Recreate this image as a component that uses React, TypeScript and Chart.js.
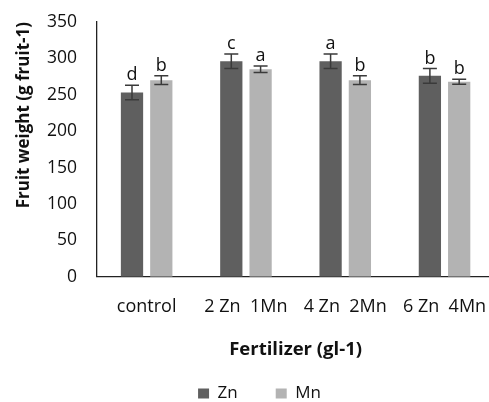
import React, { useEffect, useRef } from "react";
import { Chart, registerables } from "chart.js";

Chart.register(...registerables);

const categories = ["control", "2 Zn  1Mn", "4 Zn  2Mn", "6 Zn  4Mn"];
const znValues = [253, 296, 296, 276];
const mnValues = [270, 285, 270, 268];
const znErrors = [10, 10, 10, 10];
const mnErrors = [6, 4.5, 6, 3.5];
const znLetters = ["d", "c", "a", "b"];
const mnLetters = ["b", "a", "b", "b"];
const yTicks = [0, 50, 100, 150, 200, 250, 300, 350];

const FONT = "'Open Sans', Lato, sans-serif";

const errorBarPlugin = {
  id: "errorBars",
  afterDatasetsDraw(chart: any) {
    const ctx = chart.ctx;
    const yScale = chart.scales.y;
    const errs = [znErrors, mnErrors];
    const letters = [znLetters, mnLetters];
    chart.data.datasets.forEach((ds: any, di: number) => {
      const meta = chart.getDatasetMeta(di);
      meta.data.forEach((el: any, i: number) => {
        const v = ds.data[i];
        const e = errs[di][i];
        const x = el.x;
        const yT = yScale.getPixelForValue(v + e);
        const yB = yScale.getPixelForValue(v - e);
        ctx.save();
        ctx.strokeStyle = "#3a3a3a";
        ctx.lineWidth = 1.5;
        ctx.beginPath();
        ctx.moveTo(x, yT);
        ctx.lineTo(x, yB);
        ctx.moveTo(x - 7, yT);
        ctx.lineTo(x + 7, yT);
        ctx.moveTo(x - 7, yB);
        ctx.lineTo(x + 7, yB);
        ctx.stroke();
        ctx.fillStyle = "#111";
        ctx.font = `18px ${FONT}`;
        ctx.textAlign = "center";
        ctx.textBaseline = "alphabetic";
        ctx.fillText(letters[di][i], x, yT - 5);
        ctx.restore();
      });
    });
  },
};

const legendShiftPlugin = {
  id: "legendShift",
  afterLayout(chart: any) {
    if (chart.legend) {
      chart.legend.left += 3;
      chart.legend.right += 3;
    }
  },
};

export default function App() {
  const ref = useRef<HTMLCanvasElement | null>(null);
  useEffect(() => {
    if (!ref.current) return;
    const chart = new Chart(ref.current, {
      type: "bar",
      data: {
        labels: categories,
        datasets: [
          {
            label: "Zn",
            data: znValues,
            backgroundColor: "#5f5f5f",
            categoryPercentage: 0.59,
            barPercentage: 0.76,
          },
          {
            label: "Mn",
            data: mnValues,
            backgroundColor: "#b3b3b3",
            categoryPercentage: 0.59,
            barPercentage: 0.76,
          },
        ],
      },
      options: {
        responsive: false,
        animation: false,
        layout: { padding: { left: 14, right: 7, top: 22, bottom: 0 } },
        plugins: {
          legend: {
            position: "bottom",
            labels: {
              boxWidth: 11,
              boxHeight: 10,
              padding: 38,
              color: "#111",
              font: { family: FONT, size: 17 },
            },
          },
          tooltip: { enabled: false },
        },
        scales: {
          x: {
            grid: { display: false, drawTicks: false },
            border: { display: true, color: "#222", width: 1.3 },
            ticks: {
              color: "#111",
              padding: 19,
              maxRotation: 0,
              autoSkip: false,
              font: { family: FONT, size: 18 },
            },
            title: {
              display: true,
              text: "Fertilizer (gl-1)",
              color: "#111",
              padding: { top: 2.5, bottom: -14 },
              font: { family: FONT, size: 18.5, weight: "bold" },
            },
          },
          y: {
            min: 0,
            max: 350,
            afterBuildTicks(scale: any) {
              scale.ticks = yTicks.map((v) => ({ value: v }));
            },
            afterFit(scale: any) {
              scale.width = 83;
              scale.paddingTop = 0;
              scale.paddingBottom = 0;
            },
            grid: { display: false, drawTicks: false },
            border: { display: true, color: "#222", width: 1.3 },
            ticks: {
              color: "#111",
              padding: 20,
              font: { family: FONT, size: 17.5 },
            },
            title: {
              display: true,
              text: "Fruit weight (g fruit-1)",
              color: "#111",
              padding: { top: 0, bottom: 0 },
              align: "end",
              font: { family: FONT, size: 17, weight: "bold" },
            },
          },
        },
      },
      plugins: [errorBarPlugin, legendShiftPlugin],
    });
    return () => chart.destroy();
  }, []);

  return (
    <div
      style={{
        position: "fixed",
        left: 0,
        top: 0,
        width: 489,
        height: 402,
        overflow: "hidden",
        background: "#fff",
      }}
    >
      <canvas ref={ref} width={506} height={412} style={{ display: "block" }} />
    </div>
  );
}
